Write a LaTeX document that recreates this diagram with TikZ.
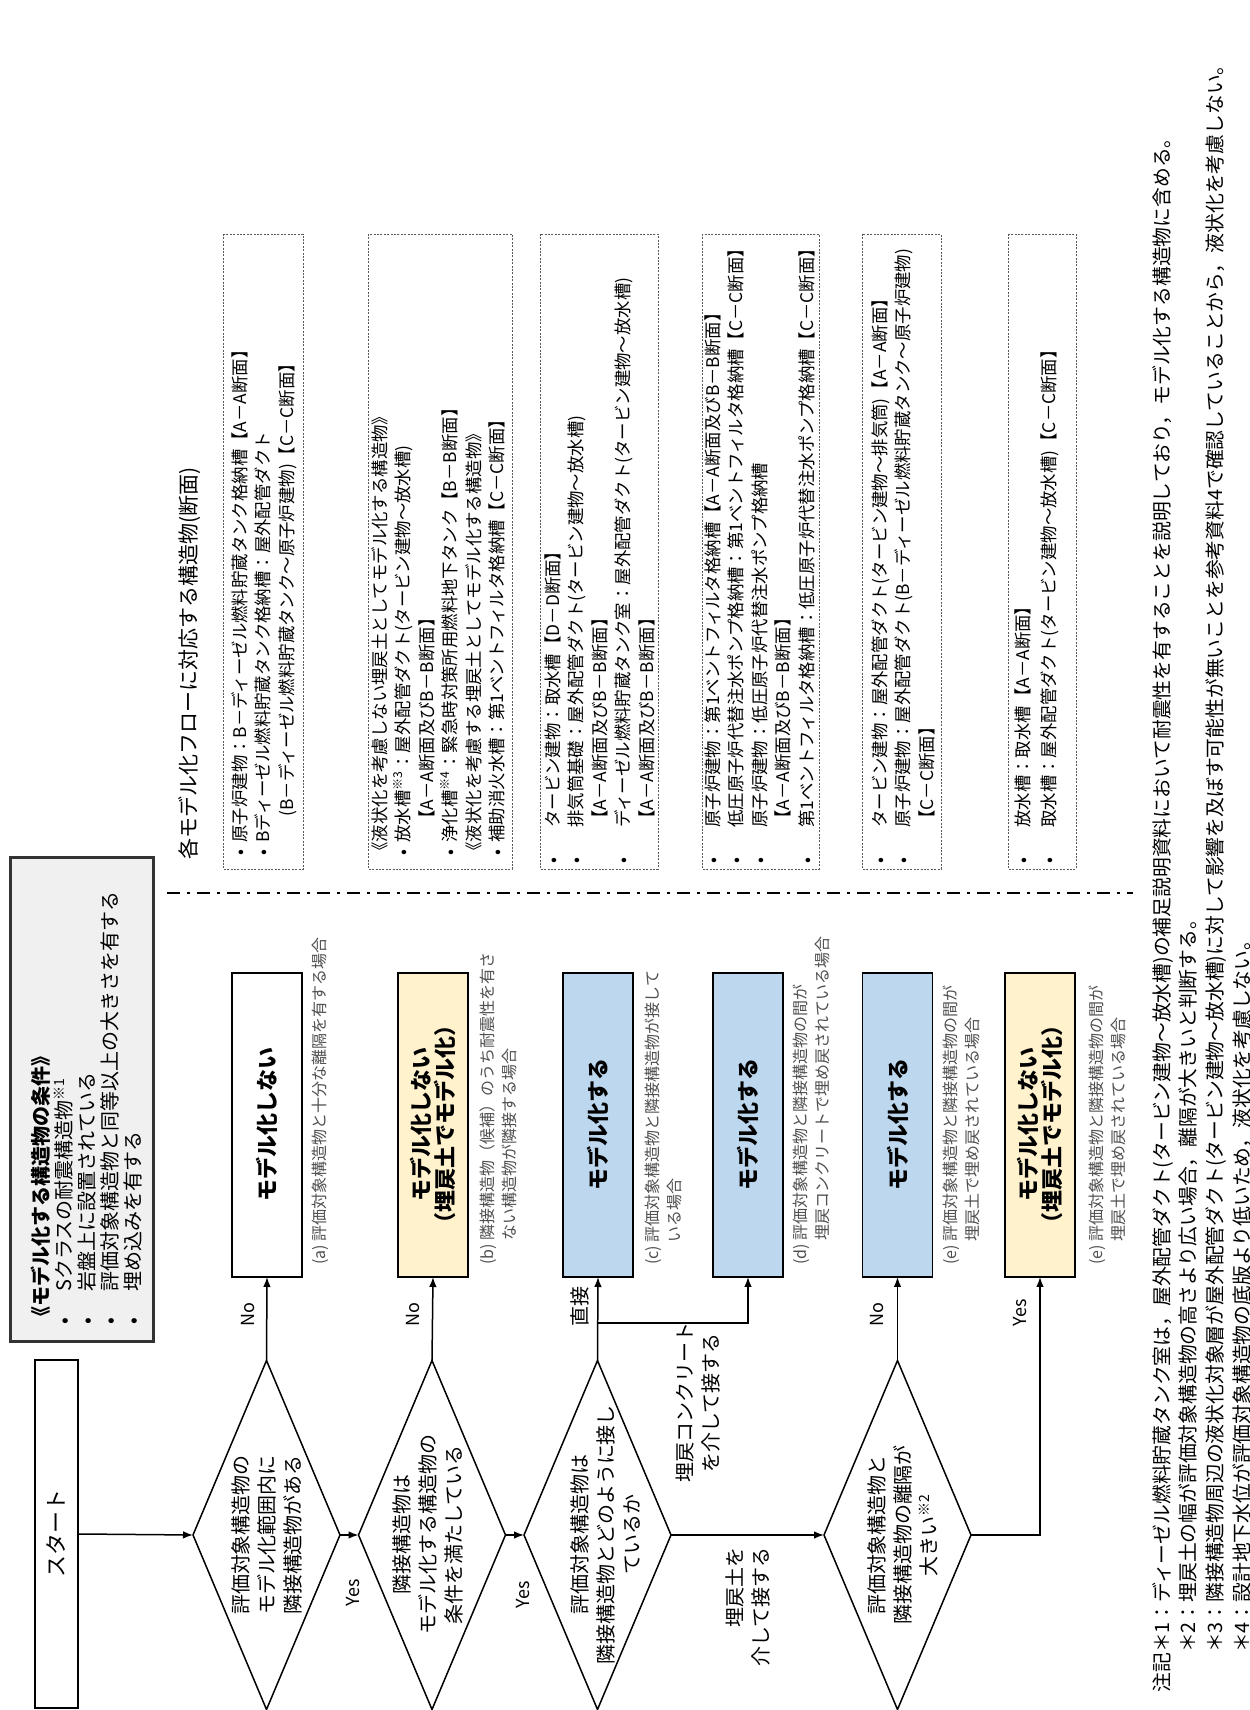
\documentclass[tikz,border=0pt]{standalone}
\usepackage{fontspec}
\setmainfont{Noto Sans CJK JP}
\usetikzlibrary{shapes.geometric,arrows.meta}
\definecolor{ylw}{HTML}{FFF2CC}
\definecolor{blu}{HTML}{BDD7EE}
\definecolor{condfill}{HTML}{F0F0F0}
\definecolor{anngray}{HTML}{505050}
\tikzset{
  flow/.style={line width=0.75pt,-{Latex[length=5pt,width=3.8pt]}},
  seg/.style={line width=0.75pt},
  decision/.style={diamond,draw,line width=0.75pt,minimum width=174.5pt,minimum height=73.5pt,inner sep=0pt,outer sep=0pt},
  dtext/.style={align=center,font=\fontsize{10}{13}\selectfont,inner sep=0pt},
  startbox/.style={rectangle,draw,line width=0.8pt,minimum width=174pt,minimum height=21.5pt,inner sep=0pt,outer sep=0pt,font=\fontsize{11}{12}\selectfont},
  result/.style={rectangle,draw,line width=0.8pt,minimum width=152pt,minimum height=35pt,inner sep=0pt,outer sep=0pt,align=center,font=\fontsize{11}{12}\selectfont\bfseries},
  ann/.style={anchor=north west,align=left,inner sep=0pt,text=anngray,font=\fontsize{8}{11}\selectfont},
  elabel/.style={inner sep=0pt,font=\fontsize{9}{10}\selectfont},
  tbox/.style={rectangle,draw=black!65,line width=0.45pt,dash pattern=on 1pt off 0.7pt,minimum width=317.5pt,inner sep=0pt,outer sep=0pt},
  tbtext/.style={anchor=north west,align=left,inner sep=0pt,font=\fontsize{8.7}{11.75}\selectfont},
  sepline/.style={line width=0.8pt,dash pattern=on 6.5pt off 3.5pt on 1.5pt off 3.5pt},
}
\newcommand{\bA}{\makebox[8.5pt][l]{\hspace{2pt}•}}
\newcommand{\bB}{\makebox[18.5pt][l]{\hspace{0.5pt}•}}
\newcommand{\bC}{\makebox[17.5pt][l]{\hspace{1pt}•}}
\begin{document}
\begin{tikzpicture}[x=0.5pt,y=0.5pt]
\fill[white] (0,0) rectangle (1249,1710);
\useasboundingbox (0,0) rectangle (1249,1710);
\begin{scope}[rotate=90,transform shape]
% ---------------- flowchart ----------------
\node[startbox] (start) at (176,-56.5) {スタート};
\node[decision] (d1) at (175,-266.5) {};
\node[decision] (d2) at (175,-432) {};
\node[decision] (d3) at (175,-597.5) {};
\node[decision] (d4) at (175,-897.5) {};
\node[dtext] (d1t) at (175,-266.5) {評価対象構造物の\\モデル化範囲内に\\隣接構造物がある};
\node[dtext] (d2t) at (175,-428) {隣接構造物は\\モデル化する構造物の\\条件を満たしている};
\node[dtext] (d3t) at (175,-605) {評価対象構造物は\\隣接構造物とどのように接し\\ているか};
\node[dtext] (d4t) at (175,-903) {評価対象構造物と\\隣接構造物の離隔が\\大きい\textsuperscript{※2}};

\node[result] (r1) at (585,-267) {モデル化しない};
\node[result,fill=ylw] (r2) at (585,-433) {モデル化しない\\（埋戻土でモデル化）};
\node[result,fill=blu] (r3) at (585,-598) {モデル化する};
\node[result,fill=blu] (r4) at (585,-748) {モデル化する};
\node[result,fill=blu] (r5) at (585,-897.5) {モデル化する};
\node[result,fill=ylw] (r6) at (585,-1040) {モデル化しない\\（埋戻土でモデル化）};

\draw[flow] (start.south) -- (d1.north);
\draw[flow] (d1.south) -- (d2.north);
\draw[flow] (d2.south) -- (d3.north);
\draw[flow] (d3.south) -- (d4.north);
\draw[flow] (d1.east) -- (r1.west);
\draw[flow] (d2.east) -- (r2.west);
\draw[flow] (d3.east) -- (r3.west);
\coordinate (br) at (387,-597.5);
\draw[flow] (br) |- (r4.west);
\draw[flow] (d4.east) -- (r5.west);
\draw[flow] (d4.south) |- (r6.west);

\node[elabel] (y1) at (117,-353) {Yes};
\node[elabel] (y2) at (115,-523) {Yes};
\node[elabel] (n1) at (395,-248) {No};
\node[elabel] (n2) at (395,-413) {No};
\node[elabel,font=\fontsize{10}{11}\selectfont] (l3) at (403,-580) {直接};
\node[elabel] (n4) at (395,-877) {No};
\node[elabel] (y4) at (397,-1020) {Yes};
\node[inner sep=0pt,align=center,font=\fontsize{10}{13}\selectfont] (lc) at (307,-698) {埋戻コンクリート\\を介して接する};
\node[inner sep=0pt,align=right,anchor=east,font=\fontsize{10}{13}\selectfont] (ls) at (163,-748) {埋戻土を\\介して接する};

\node[ann] (a1) at (445,-312) {(a) 評価対象構造物と十分な離隔を有する場合};
\node[ann] (a2) at (445,-479) {(b) 隣接構造物（候補）のうち耐震性を有さ\\\hphantom{(b) }ない構造物が隣接する場合};
\node[ann] (a3) at (445,-645) {(c) 評価対象構造物と隣接構造物が接して\\\hphantom{(c) }いる場合};
\node[ann] (a4) at (445,-793) {(d) 評価対象構造物と隣接構造物の間が\\\hphantom{(d) }埋戻コンクリートで埋め戻されている場合};
\node[ann] (a5) at (445,-943) {(e) 評価対象構造物と隣接構造物の間が\\\hphantom{(e) }埋戻土で埋め戻されている場合};
\node[ann] (a6) at (445,-1089) {(e) 評価対象構造物と隣接構造物の間が\\\hphantom{(e) }埋戻土で埋め戻されている場合};

% ---------------- conditions box ----------------
\node[rectangle,draw=black!80,line width=1.5pt,fill=condfill,minimum width=242pt,minimum height=71.5pt,inner sep=0pt] (cond) at (610,-81.5) {};
\node[anchor=north west,align=left,inner sep=0pt,font=\fontsize{10}{11.4}\selectfont] (condt) at (383,-31)
 {\textbf{《モデル化する構造物の条件》}\\
  \bC Sクラスの耐震構造物\textsuperscript{※1}\\
  \bC 岩盤上に設置されている\\
  \bC 評価対象構造物と同等以上の大きさを有する\\
  \bC 埋め込みを有する};

% ---------------- right part ----------------
\node[anchor=west,inner sep=0pt,font=\fontsize{10.5}{12}\selectfont] (head) at (850,-190) {各モデル化フローに対応する構造物(断面)};
\coordinate (sepA) at (817,-167);
\coordinate (sepB) at (817,-1133);
\draw[sepline] (sepA) -- (sepB);

\node[tbox,minimum height=40pt] (ta) at (1158.5,-263) {};
\node[tbox,minimum height=72pt] (tb) at (1158.5,-440) {};
\node[tbox,minimum height=59pt] (tc) at (1158.5,-599) {};
\node[tbox,minimum height=58.5pt] (td) at (1158.5,-760.5) {};
\node[tbox,minimum height=39.5pt] (te) at (1158.5,-901.5) {};
\node[tbox,minimum height=34pt] (tf) at (1158.5,-1042) {};

\node[tbtext] (tat) at (850,-231)
 {\bA 原子炉建物：B－ディーゼル燃料貯蔵タンク格納槽【A－A断面】\\
  \bA Bディーゼル燃料貯蔵タンク格納槽：屋外配管ダクト\\
  \hspace{21.5pt}(B－ディーゼル燃料貯蔵タンク～原子炉建物)【C－C断面】};
\node[tbtext] (tbt) at (850,-371)
 {《液状化を考慮しない埋戻土としてモデル化する構造物》\\
  \bA 放水槽\textsuperscript{※3}：屋外配管ダクト(タービン建物～放水槽)\\
  \hspace{16pt}【A－A断面及びB－B断面】\\
  \bA 浄化槽\textsuperscript{※4}：緊急時対策所用燃料地下タンク【B－B断面】\\
  《液状化を考慮する埋戻土としてモデル化する構造物》\\
  \bA 補助消火水槽：第1ベントフィルタ格納槽【C－C断面】};
\node[tbtext] (tct) at (845,-544)
 {\bB タービン建物：取水槽【D－D断面】\\
  \bB 排気筒基礎：屋外配管ダクト(タービン建物～放水槽)\\
  \hspace{18.5pt}【A－A断面及びB－B断面】\\
  \bB ディーゼル燃料貯蔵タンク室：屋外配管ダクト(タービン建物～放水槽)\\
  \hspace{18.5pt}【A－A断面及びB－B断面】};
\node[tbtext] (tdt) at (845,-704)
 {\bB 原子炉建物：第1ベントフィルタ格納槽【A－A断面及びB－B断面】\\
  \bB 低圧原子炉代替注水ポンプ格納槽：第1ベントフィルタ格納槽【C－C断面】\\
  \bB 原子炉建物：低圧原子炉代替注水ポンプ格納槽\\
  \hspace{18.5pt}【A－A断面及びB－B断面】\\
  \bB 第1ベントフィルタ格納槽：低圧原子炉代替注水ポンプ格納槽【C－C断面】};
\node[tbtext] (tet) at (845,-871)
 {\bB タービン建物：屋外配管ダクト(タービン建物～排気筒)【A－A断面】\\
  \bB 原子炉建物：屋外配管ダクト(B－ディーゼル燃料貯蔵タンク～原子炉建物)\\
  \hspace{18.5pt}【C－C断面】};
\node[tbtext] (tft) at (845,-1014)
 {\bB 放水槽：取水槽【A－A断面】\\[1.6pt]
  \bB 取水槽：屋外配管ダクト(タービン建物～放水槽)【C－C断面】};

% ---------------- notes ----------------
\node[anchor=north west,align=left,inner sep=0pt,font=\fontsize{9.9}{13.35}\selectfont] (notes) at (17,-1152)
 {注記＊1：ディーゼル燃料貯蔵タンク室は，屋外配管ダクト(タービン建物～放水槽)の補足説明資料において耐震性を有することを説明しており，モデル化する構造物に含める。\\
  \hphantom{注記}＊2：埋戻土の幅が評価対象構造物の高さより広い場合，離隔が大きいと判断する。\\
  \hphantom{注記}＊3：隣接構造物周辺の液状化対象層が屋外配管ダクト(タービン建物～放水槽)に対して影響を及ぼす可能性が無いことを参考資料4で確認していることから，液状化を考慮しない。\\
  \hphantom{注記}＊4：設計地下水位が評価対象構造物の底版より低いため，液状化を考慮しない。};
\end{scope}
\end{tikzpicture}
\end{document}
